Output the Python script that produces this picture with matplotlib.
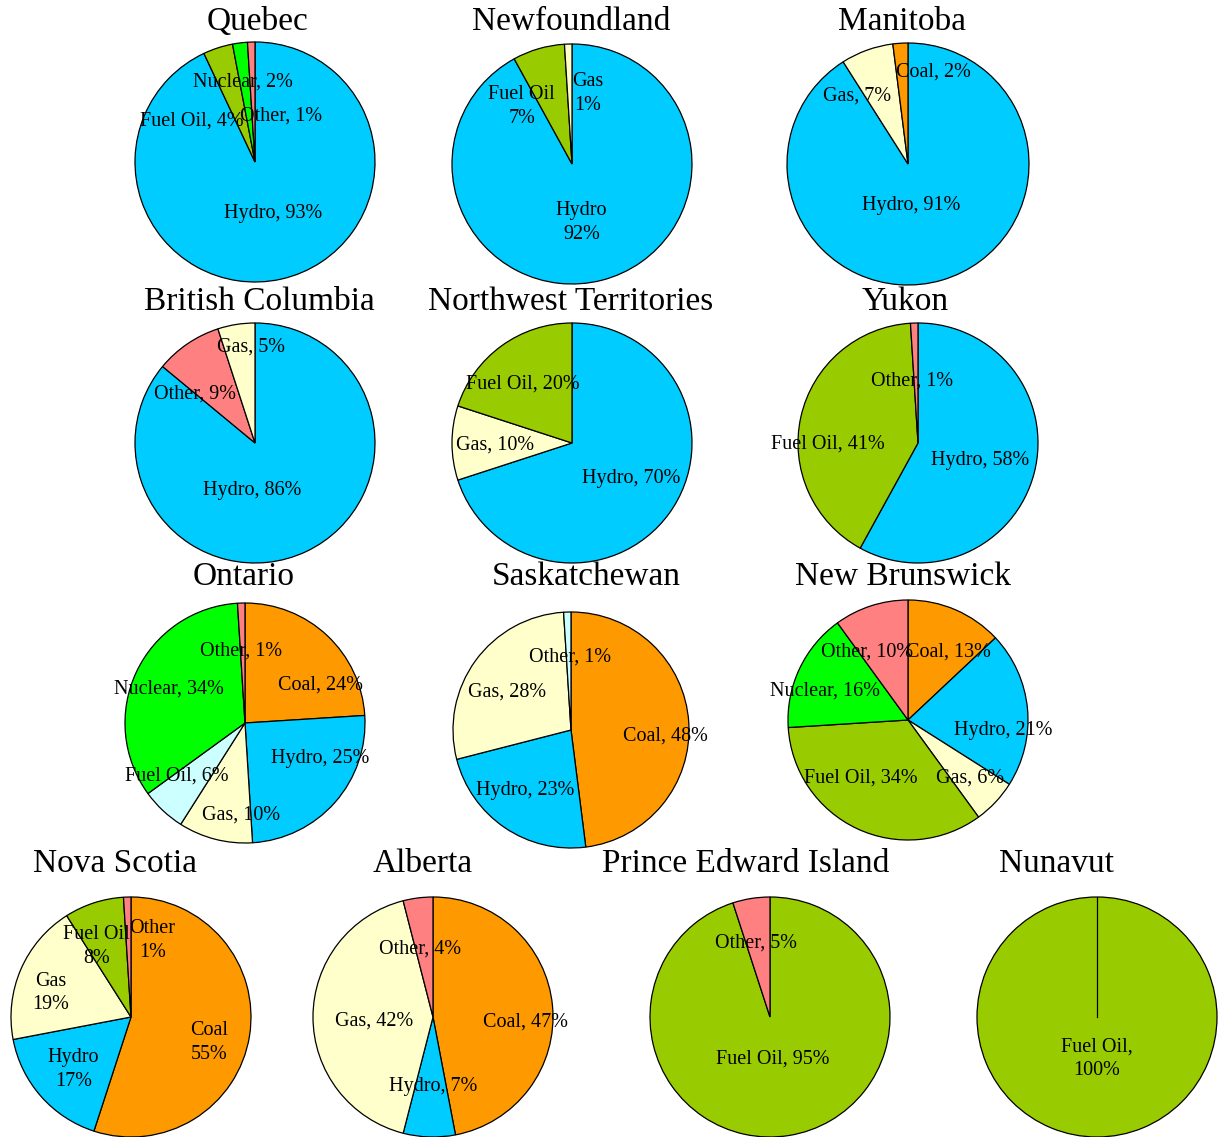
import numpy as np
import matplotlib
matplotlib.use('Agg')
import matplotlib.pyplot as plt

plt.rcParams['font.family'] = ['Liberation Serif', 'DejaVu Serif']

# Electricity generation mix by province / territory (percent of total)
provinces = ['Quebec', 'Newfoundland', 'Manitoba',
             'British Columbia', 'Northwest Territories', 'Yukon',
             'Ontario', 'Saskatchewan', 'New Brunswick',
             'Nova Scotia', 'Alberta', 'Prince Edward Island', 'Nunavut']

quebec_src = ['Hydro', 'Fuel Oil', 'Nuclear', 'Other']
quebec_pct = [93, 4, 2, 1]
newfoundland_src = ['Hydro', 'Fuel Oil', 'Gas']
newfoundland_pct = [92, 7, 1]
manitoba_src = ['Hydro', 'Gas', 'Coal']
manitoba_pct = [91, 7, 2]
bc_src = ['Hydro', 'Other', 'Gas']
bc_pct = [86, 9, 5]
nwt_src = ['Hydro', 'Gas', 'Fuel Oil']
nwt_pct = [70, 10, 20]
yukon_src = ['Hydro', 'Fuel Oil', 'Other']
yukon_pct = [58, 41, 1]
ontario_src = ['Coal', 'Hydro', 'Gas', 'Fuel Oil', 'Nuclear', 'Other']
ontario_pct = [24, 25, 10, 6, 34, 1]
sask_src = ['Coal', 'Hydro', 'Gas', 'Other']
sask_pct = [48, 23, 28, 1]
nb_src = ['Coal', 'Hydro', 'Gas', 'Fuel Oil', 'Nuclear', 'Other']
nb_pct = [13, 21, 6, 34, 16, 10]
ns_src = ['Coal', 'Hydro', 'Gas', 'Fuel Oil', 'Other']
ns_pct = [55, 17, 19, 8, 1]
alberta_src = ['Coal', 'Hydro', 'Gas', 'Other']
alberta_pct = [47, 7, 42, 4]
pei_src = ['Fuel Oil', 'Other']
pei_pct = [95, 5]
nunavut_src = ['Fuel Oil']
nunavut_pct = [100]

sources = [quebec_src, newfoundland_src, manitoba_src, bc_src, nwt_src, yukon_src,
           ontario_src, sask_src, nb_src, ns_src, alberta_src, pei_src, nunavut_src]
shares = [quebec_pct, newfoundland_pct, manitoba_pct, bc_pct, nwt_pct, yukon_pct,
          ontario_pct, sask_pct, nb_pct, ns_pct, alberta_pct, pei_pct, nunavut_pct]

# label separator between name and value
label_sep = [', ', '\n', ', ', ', ', ', ', ', ', ', ', ', ', ', ', '\n', ', ', ', ', ',\n']

colors = {'Hydro': '#00CCFF', 'Fuel Oil': '#99CC00', 'Nuclear': '#00FF00',
          'Other': '#FF8080', 'Gas': '#FFFFCC', 'Coal': '#FF9900'}
# a few pies use the pale cyan for one slice
color_override = {('Ontario', 'Fuel Oil'): '#CCFFFF',
                  ('Saskatchewan', 'Other'): '#CCFFFF'}

# pie centre x, centre y, radius, title x, title y  (pixels, from top-left)
layout = [(255, 162, 120, 258, 22), (572, 164, 120, 571, 22), (908, 164, 121, 902, 22),
          (255, 443, 120, 259, 302), (572, 443, 120, 571, 302), (918, 443, 120, 905, 302),
          (245, 723, 120, 244, 577), (571, 730, 118, 586, 577), (908, 720, 120, 903, 577),
          (131, 1017, 120, 115, 864), (433, 1017, 120, 423, 864), (770, 1017, 120, 746, 864),
          (1097, 1017, 120, 1057, 864)]

# label positions in units of the pie radius
label_pos = [
    [(0.15, -0.43), (-0.53, 0.34), (-0.10, 0.67), (0.22, 0.38)],
    [(0.08, -0.49), (-0.42, 0.48), (0.13, 0.59)],
    [(0.03, -0.34), (-0.42, 0.56), (0.21, 0.76)],
    [(-0.02, -0.40), (-0.50, 0.41), (-0.03, 0.80)],
    [(0.49, -0.30), (-0.64, -0.02), (-0.41, 0.49)],
    [(0.52, -0.15), (-0.75, -0.01), (-0.05, 0.52)],
    [(0.63, 0.32), (0.63, -0.30), (-0.03, -0.77), (-0.57, -0.44), (-0.63, 0.28), (-0.03, 0.60)],
    [(0.80, -0.05), (-0.39, -0.51), (-0.54, 0.32), (-0.01, 0.62)],
    [(0.34, 0.57), (0.79, -0.09), (0.52, -0.48), (-0.39, -0.48), (-0.69, 0.24), (-0.34, 0.57)],
    [(0.65, -0.21), (-0.48, -0.44), (-0.67, 0.20), (-0.29, 0.59), (0.18, 0.64)],
    [(0.77, -0.04), (0.00, -0.58), (-0.49, -0.03), (-0.11, 0.57)],
    [(0.02, -0.35), (-0.12, 0.62)],
    [(0.00, -0.35)],
]

W, H = 1225, 1137
fig = plt.figure(figsize=(W / 100, H / 100), dpi=100)

for name, src, pct, sep, (cx, cy, r, tx, ty), lpos in zip(
        provinces, sources, shares, label_sep, layout, label_pos):
    ax = fig.add_axes([(cx - r) / W, (H - cy - r) / H, 2 * r / W, 2 * r / H])
    cols = [color_override.get((name, s), colors[s]) for s in src]
    wedges, _ = ax.pie(pct, colors=cols, startangle=90, counterclock=False, radius=1,
                       wedgeprops=dict(edgecolor='black', linewidth=0.9))
    for w in wedges:
        w.set_clip_on(False)
    if len(pct) == 1:
        # single full slice: still show its start edge
        a = np.radians(90)
        ax.plot([0, np.cos(a)], [0, np.sin(a)], color='black', lw=0.9)
    for s, p, (lx, ly) in zip(src, pct, lpos):
        ax.text(lx, ly, f'{s}{sep}{p}%', ha='center', va='center',
                fontsize=14.5, linespacing=1.35)
    ax.set_xlim(-1.0, 1.0)
    ax.set_ylim(-1.0, 1.0)
    ax.axis('off')
    fig.text(tx / W, (H - ty) / H, name, ha='center', va='center', fontsize=24)

fig.savefig('out.png', dpi=100)
